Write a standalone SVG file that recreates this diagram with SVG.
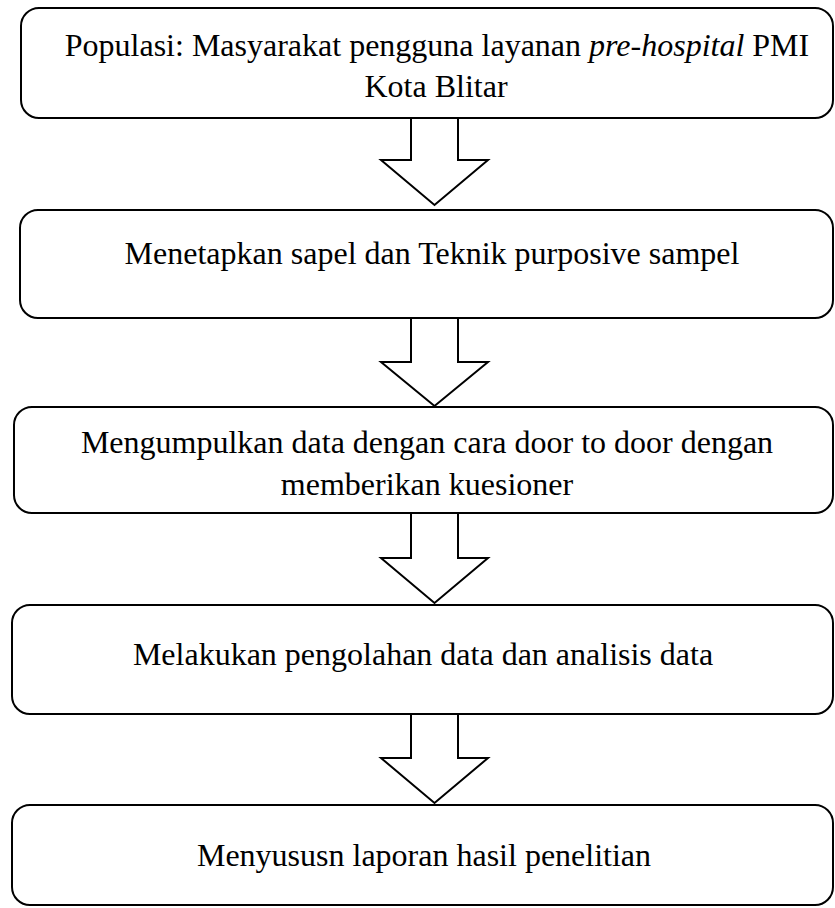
<svg xmlns="http://www.w3.org/2000/svg" width="835" height="908" viewBox="0 0 835 908">
<style>
.box{fill:#fff;stroke:#000;stroke-width:2}
.arr{fill:#fff;stroke:#000;stroke-width:2;stroke-linejoin:miter}
.t{font-family:"Liberation Serif","Times New Roman",serif;font-size:32px;fill:#000;text-anchor:middle}
</style>
<rect width="835" height="908" fill="#fff"/>
<g id="n1"><rect class="box" x="21" y="8" width="812" height="110" rx="18"/>
<text class="t" x="437" y="56">Populasi: Masyarakat pengguna layanan <tspan font-style="italic">pre-hospital</tspan> PMI</text>
<text class="t" x="436" y="97">Kota Blitar</text></g>
<g id="n2"><rect class="box" x="20" y="210" width="813" height="108" rx="18"/>
<text class="t" x="432" y="264">Menetapkan sapel dan Teknik purposive sampel</text></g>
<g id="n3"><rect class="box" x="14" y="407" width="819" height="106" rx="18"/>
<text class="t" x="427" y="453">Mengumpulkan data dengan cara door to door dengan</text>
<text class="t" x="427" y="495">memberikan kuesioner</text></g>
<g id="n4"><rect class="box" x="12" y="605" width="821" height="109" rx="18"/>
<text class="t" x="423" y="665">Melakukan pengolahan data dan analisis data</text></g>
<g id="n5"><rect class="box" x="12" y="805" width="821" height="100" rx="18"/>
<text class="t" x="424" y="866">Menyususn laporan hasil penelitian</text></g>
<g id="connectors">
<polygon class="arr" points="411,118 458,118 458,160 488,160 434.5,205 381,160 411,160"/>
<polygon class="arr" points="411,318 458,318 458,362 488,362 434.5,406 381,362 411,362"/>
<polygon class="arr" points="411,513 458,513 458,558 488,558 434.5,603 381,558 411,558"/>
<polygon class="arr" points="411,714 458,714 458,758 488,758 434.5,803 381,758 411,758"/>
</g>
</svg>
